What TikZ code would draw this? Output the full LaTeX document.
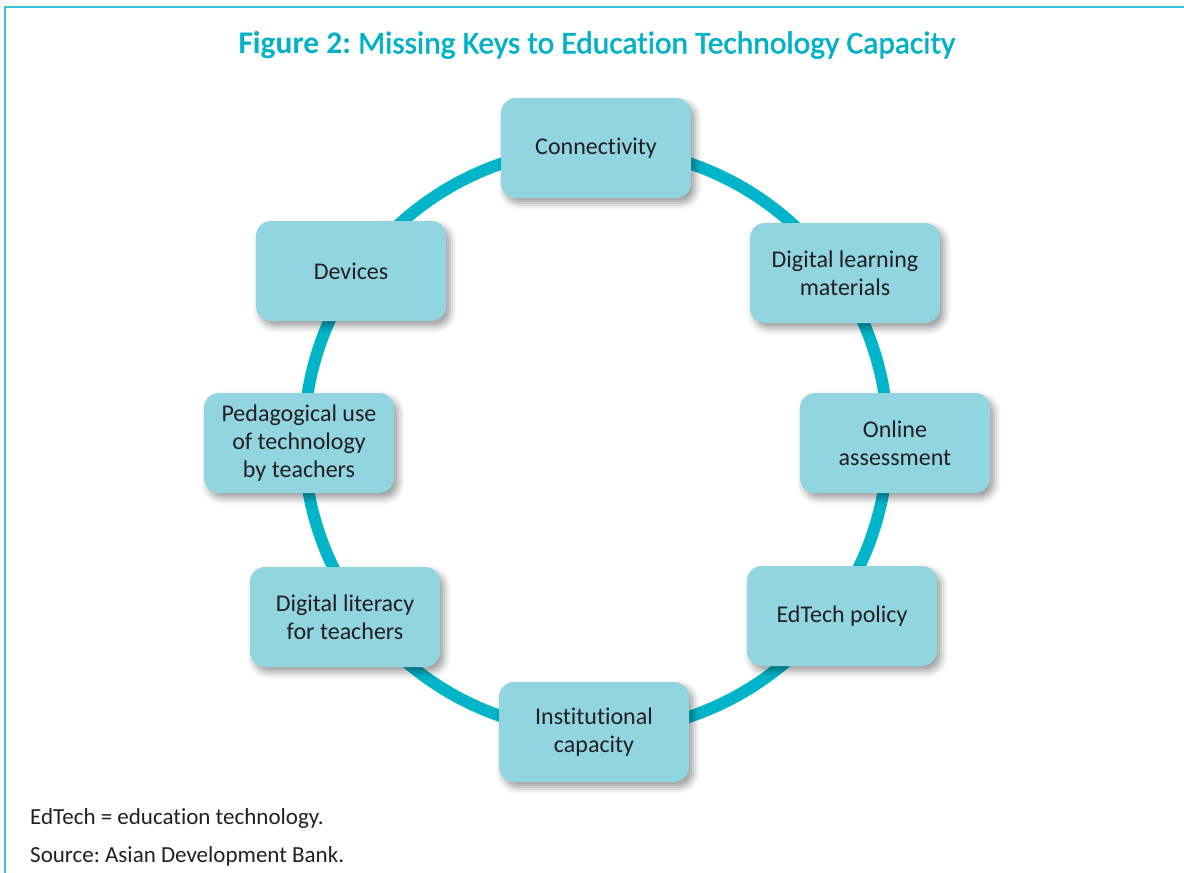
\documentclass[tikz,border=0pt]{standalone}
\usepackage{fontspec}
\setmainfont{Carlito}[Ligatures=NoCommon]
\newfontfamily\titlemed[FakeBold=1.5,Ligatures=NoCommon]{Carlito}
\usetikzlibrary{shadows.blur}
\frenchspacing
\definecolor{framec}{HTML}{35C3D8}
\definecolor{titlec}{HTML}{00B1C7}
\definecolor{ringc}{HTML}{00B5C9}
\definecolor{boxc}{HTML}{90D5E0}
\definecolor{textc}{HTML}{231F20}
\tikzset{
  keybox/.style={rectangle, rounded corners=15pt, fill=boxc, minimum width=190pt, minimum height=100pt,
    align=center, text=textc, font=\fontsize{24}{28}\selectfont,
    blur shadow={shadow xshift=4pt, shadow yshift=-5pt, shadow blur radius=7pt, shadow opacity=40}},
  ringline/.style={draw=ringc, line width=12pt, circle, minimum size=584pt, inner sep=0pt},
  framel/.style={draw=framec, line width=1.6pt},
  note/.style={anchor=base west, text=textc, font=\fontsize{23}{27}\selectfont, inner sep=0pt}
}
\begin{document}
\frenchspacing
\begin{tikzpicture}[x=1pt,y=-1pt]
\useasboundingbox (0,0) rectangle (1184,873);
\draw[framel] (5,873) -- (5,7) -- (1184,7);
\node[text=titlec, font=\fontsize{31.5}{36}\selectfont] (title) at (597,45) {\textbf{Figure 2:} {\titlemed Missing Keys to Education Technology Capacity}};
\node[ringline] (ring) at (596,440) {};
\node[keybox] (conn) at (596,148) {Connectivity};
\node[keybox] (dlm) at (845,273) {Digital learning\\materials};
\node[keybox] (online) at (895,443) {Online\\assessment};
\node[keybox] (policy) at (842,616) {EdTech policy};
\node[keybox] (inst) at (594,732) {Institutional\\capacity};
\node[keybox] (diglit) at (345,617) {Digital literacy\\for teachers};
\node[keybox] (ped) at (299,443) {Pedagogical use\\of technology\\by teachers};
\node[keybox] (dev) at (351,271) {Devices};
\node[note] (n1) at (30,824) {EdTech = education technology.};
\node[note] (n2) at (30,862) {Source: Asian Development Bank.};
\end{tikzpicture}
\end{document}
